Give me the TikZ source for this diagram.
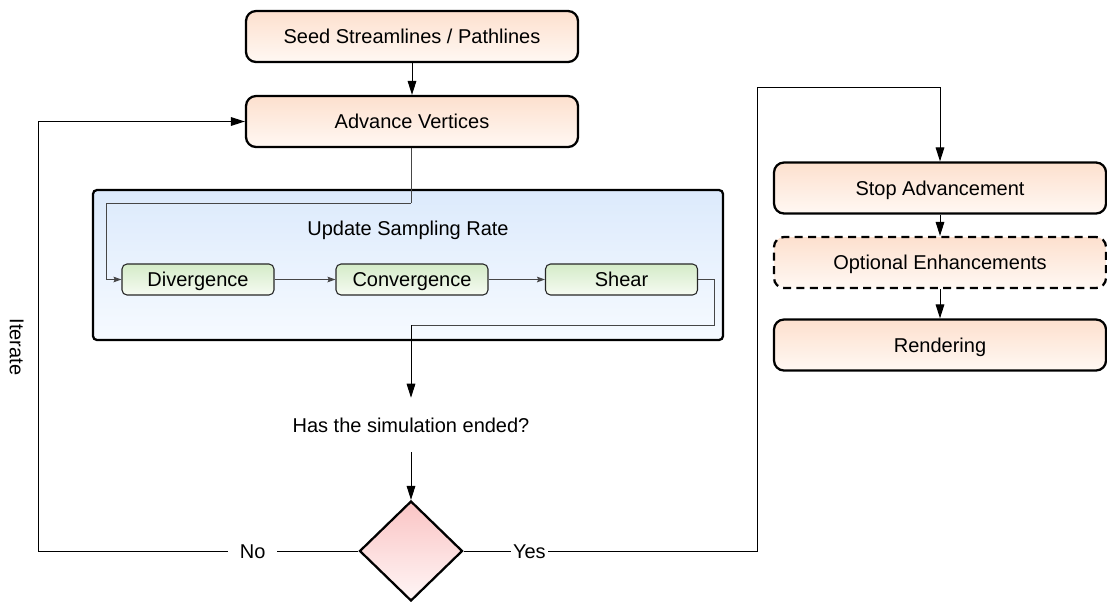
\documentclass[tikz,border=0pt]{standalone}
\usepackage{fontspec}
\setmainfont{Liberation Sans}
\usetikzlibrary{arrows.meta,shapes.geometric,shadings}
\definecolor{orTop}{RGB}{253,224,206}
\definecolor{orBot}{RGB}{255,248,243}
\definecolor{blTop}{RGB}{220,234,252}
\definecolor{blBot}{RGB}{246,250,255}
\definecolor{grTop}{RGB}{212,235,200}
\definecolor{grBot}{RGB}{246,251,242}
\definecolor{piTop}{RGB}{250,196,196}
\definecolor{piBot}{RGB}{255,246,246}
\definecolor{wireGray}{RGB}{70,70,70}
\begin{document}
\begin{tikzpicture}[x=0.75pt,y=-0.75pt,
  font=\fontsize{15}{18}\selectfont,
  txt/.style={text height=11pt, text depth=0.3pt},
  procbox/.style={txt, draw=black, line width=1.7pt, rounded corners=7.5pt,
    top color=orTop, bottom color=orBot, minimum width=249pt,
    minimum height=38.25pt, inner sep=0pt},
  optbox/.style={procbox, dash pattern=on 6pt off 4pt},
  groupbox/.style={draw=black, line width=1.7pt, rounded corners=3pt,
    top color=blTop, bottom color=blBot, minimum width=472.5pt,
    minimum height=112.5pt, inner sep=0pt},
  subbox/.style={txt, draw=black!85, line width=0.8pt, rounded corners=3.75pt,
    top color=grTop, bottom color=grBot, minimum width=114pt,
    minimum height=23.25pt, inner sep=0pt},
  decision/.style={diamond, draw=black, line width=1.7pt, top color=piTop,
    bottom color=piBot, minimum width=77.25pt, minimum height=75pt,
    inner sep=0pt, aspect=1},
  plain/.style={txt, inner sep=0pt},
  arr/.style={draw=black, line width=0.75pt,
    -{Triangle[length=10.5pt,width=6.5pt]}},
  smallarr/.style={draw=wireGray, line width=0.75pt,
    -{Stealth[length=6pt,width=4.2pt,inset=1pt]}},
  edgelabel/.style={txt, fill=white, inner ysep=3pt},
]
\useasboundingbox (0,0) rectangle (1107,601);

% main column
\node[procbox] (seed) at (412,36.5) {Seed Streamlines / Pathlines};
\node[procbox] (adv) at (412,121.5) {Advance Vertices};

% group
\node[groupbox] (grp) at (408,265) {};
\node[plain] (title) at (408,228) {Update Sampling Rate};
\node[subbox] (div) at (198,279.5) {Divergence};
\node[subbox] (conv) at (412,279.5) {Convergence};
\node[subbox] (shear) at (621.5,279.5) {Shear};

\node[plain, minimum height=40.5pt, minimum width=10pt] (q) at (411,425) {Has the simulation ended?};
\node[decision] (dia) at (411,551) {};

% right column
\node[procbox] (stop) at (940,188) {Stop Advancement};
\node[optbox] (opt) at (940,262.5) {Optional Enhancements};
\node[procbox] (rend) at (940,345) {Rendering};

\node[plain, rotate=-90] (iter) at (17,347) {Iterate};

% waypoints
\coordinate (a1) at (411,203);
\coordinate (a2) at (106,203);
\coordinate (s1) at (714,279.5);
\coordinate (s2) at (714,325);
\coordinate (s3) at (411,325);
\coordinate (noL) at (38,551);
\coordinate (yesR) at (757,551);
\coordinate (yesT) at (757,87);

% connectors
\draw[arr] (seed.south) -- (adv.north);
\draw[wireGray, line width=0.75pt] (adv.south -| a1) -- (a1);
\draw[smallarr] (a1) -- (a2) |- (div.west);
\draw[smallarr] (div.east) -- (conv.west);
\draw[smallarr] (conv.east) -- (shear.west);
\draw[wireGray, line width=0.75pt] (shear.east) -- (s1) -- (s2) -- (s3);
\draw[arr] (s3) -- (q.north);
\draw[arr] (q.south) -- (dia.north);

\draw[arr] (dia.west) -- node[edgelabel, pos=0.33, inner xsep=9pt] (nolab) {No} (noL) |- (adv.west);
\draw[arr] (dia.east) -- node[edgelabel, pos=0.224, inner xsep=1.5pt] (yeslab) {Yes} (yesR) -- (yesT) -| (stop.north);

\draw[arr] (stop.south) -- (opt.north);
\draw[arr] (opt.south) -- (rend.north);
\end{tikzpicture}
\end{document}
